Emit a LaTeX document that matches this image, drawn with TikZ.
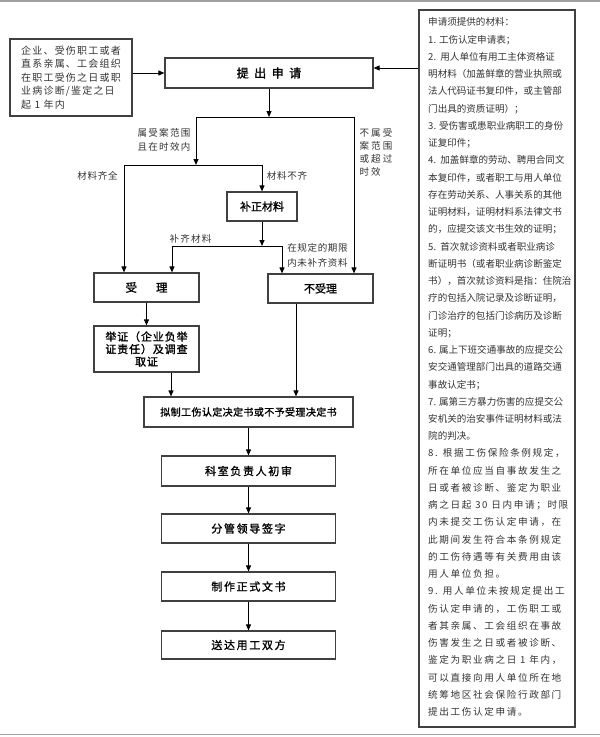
\documentclass[tikz,border=0pt]{standalone}
\usepackage{fontspec}
\usetikzlibrary{arrows.meta}
\newfontfamily\cjk{Noto Sans CJK SC}
\newfontfamily\cjkb[FakeBold=1.3]{Noto Sans CJK SC}
\definecolor{boxgray}{HTML}{404040}
\definecolor{txtgray}{HTML}{333333}
\definecolor{rulegray}{HTML}{A0A0A0}
\begin{document}
\begin{tikzpicture}[x=1pt,y=-1pt,
  box/.style={draw=boxgray,line width=1.2pt,inner sep=0pt,font=\cjkb\fontsize{11}{12.5}\selectfont},
  conn/.style={line width=0.9pt,-{Triangle[length=6pt,width=5pt]}},
  seg/.style={line width=0.9pt},
  lbl/.style={inner sep=0pt,text=txtgray,align=left},
]
\path[use as bounding box,fill=white] (0,0) rectangle (600,737);
\draw[rulegray,line width=1.5pt] (0,0.75) -- (600,0.75);
\draw[rulegray,line width=1.5pt] (0,734.5) -- (600,734.5);

% source box
\node[box,minimum width=122pt,minimum height=77pt,align=left,text=txtgray,
  font=\cjk\fontsize{10}{13.5}\selectfont\addfontfeatures{LetterSpace=12}] (src) at (71,77.5)
  {企业、受伤职工或者\\直系亲属、工会组织\\在职工受伤之日或职\\业病诊断/鉴定之日\\起 1 年内};

\node[box,minimum width=208pt,minimum height=30pt,font=\cjkb\fontsize{12}{14}\selectfont] (apply) at (269,73)
  {提\hspace{5.5pt}出\hspace{5.5pt}申\hspace{5.5pt}请};

% materials box
\node[draw=boxgray,line width=1.2pt,minimum width=156pt,minimum height=717pt,inner sep=0pt] (mat) at (497,368.5) {};
\node[lbl,anchor=north west,font=\cjk\fontsize{9.55}{17.25}\selectfont] (matA) at (428,17.5)
{申请须提供的材料：\\
1. 工伤认定申请表；\\
2.\ \ 用人单位有用工主体资格证\\
明材料（加盖鲜章的营业执照或\\
法人代码证书复印件，或主管部\\
门出具的资质证明）；\\
3. 受伤害或患职业病职工的身份\\
证复印件；\\
4.\ \ 加盖鲜章的劳动、聘用合同文\\
本复印件，或者职工与用人单位\\
存在劳动关系、人事关系的其他\\
证明材料，证明材料系法律文书\\
的，应提交该文书生效的证明；\\
5.\ \ 首次就诊资料或者职业病诊\\
断证明书（或者职业病诊断鉴定\\
书），首次就诊资料是指：住院治\\
疗的包括入院记录及诊断证明，\\
门诊治疗的包括门诊病历及诊断\\
证明；\\
6. 属上下班交通事故的应提交公\\
安交通管理部门出具的道路交通\\
事故认定书；\\
7. 属第三方暴力伤害的应提交公\\
安机关的治安事件证明材料或法\\
院的判决。};
\node[lbl,anchor=north west,font=\cjk\fontsize{9.6}{17.25}\selectfont\addfontfeatures{LetterSpace=17}] (matB) at (428,448.6)
{8. 根据工伤保险条例规定，\\
所在单位应当自事故发生之\\
日或者被诊断、鉴定为职业\\
病之日起 30 日内申请；时限\\
内未提交工伤认定申请，在\\
此期间发生符合本条例规定\\
的工伤待遇等有关费用由该\\
用人单位负担。\\
9. 用人单位未按规定提出工\\
伤认定申请的，工伤职工或\\
者其亲属、工会组织在事故\\
伤害发生之日或者被诊断、\\
鉴定为职业病之日 1 年内，\\
可以直接向用人单位所在地\\
统筹地区社会保险行政部门\\
提出工伤认定申请。};

% flow boxes
\node[box,minimum width=105pt,minimum height=29pt,font=\cjkb\fontsize{11.5}{13}\selectfont] (acc) at (146.5,287.5) {受\hspace{19pt}理};
\node[box,minimum width=70pt,minimum height=29pt] (fix) at (262,206.5) {补正材料};
\node[box,minimum width=105pt,minimum height=29pt] (rej) at (320.5,288.5) {不受理};
\node[box,minimum width=105pt,minimum height=46pt,align=center,
  font=\cjkb\fontsize{11}{12.5}\selectfont\addfontfeatures{LetterSpace=8}] (evid) at (146.5,349)
  {举证（企业负举\\证责任）及调查\\取证};
\node[box,minimum width=209pt,minimum height=30pt,
  font=\cjkb\fontsize{10}{12}\selectfont\addfontfeatures{LetterSpace=4}] (draft) at (248.5,412)
  {拟制工伤认定决定书或不予受理决定书};
\tikzset{stepbox/.style={box,minimum width=174pt,font=\cjkb\fontsize{11}{12.5}\selectfont\addfontfeatures{LetterSpace=15}}}
\node[stepbox,minimum height=30pt] (s1) at (248.5,471) {科室负责人初审};
\node[stepbox,minimum height=29pt] (s2) at (248.5,528.5) {分管领导签字};
\node[stepbox,minimum height=29pt] (s3) at (248.5,586.5) {制作正式文书};
\node[stepbox,minimum height=28pt] (s4) at (248.5,645) {送达用工双方};

% labels
\node[lbl,font=\cjk\fontsize{9.5}{14}\selectfont\addfontfeatures{LetterSpace=14}] (l1) at (164,140) {属受案范围\\且在时效内};
\node[lbl,font=\cjk\fontsize{9.5}{13}\selectfont\addfontfeatures{LetterSpace=23}] (l2) at (376,152.5) {不属受\\案范围\\或超过\\时效};
\node[lbl,font=\cjk\fontsize{9.5}{13}\selectfont\addfontfeatures{LetterSpace=8}] (l3) at (97.5,176) {材料齐全};
\node[lbl,font=\cjk\fontsize{9.5}{13}\selectfont\addfontfeatures{LetterSpace=8}] (l4) at (287,176) {材料不齐};
\node[lbl,font=\cjk\fontsize{9.5}{13}\selectfont\addfontfeatures{LetterSpace=13}] (l5) at (190.5,239) {补齐材料};
\node[lbl,font=\cjk\fontsize{9.5}{15}\selectfont\addfontfeatures{LetterSpace=7}] (l6) at (317.5,255.5) {在规定的期限\\内未补齐资料};

% connectors
\draw[conn] (src.east |- apply.west) -- (apply.west);
\coordinate (ain) at ([yshift=5pt]apply.east);
\draw[conn] (mat.west |- ain) -- (ain);

\coordinate (j1) at (269,117);
\coordinate (j1l) at (196,117);
\coordinate (j1r) at (354,117);
\draw[conn] (apply.south) -- (apply.south |- j1);
\draw[seg] (j1l) -- (j1r);
\coordinate (j2) at (196,165);
\coordinate (j2l) at (124,165);
\coordinate (j2r) at (262,165);
\draw[conn] (j1l) -- (j2);
\draw[seg] (j2l) -- (j2r);
\draw[conn] (j2l) -- (j2l |- acc.north);
\draw[conn] (j2r) -- (fix.north);
\draw[conn] (j1r) -- (j1r |- rej.north);
\coordinate (j3) at (262,246);
\coordinate (j3l) at (172,246);
\coordinate (j3r) at (282,246);
\draw[conn] (fix.south) -- (j3);
\draw[seg] (j3l) -- (j3r);
\draw[conn] (j3l) -- (j3l |- acc.north);
\draw[conn] (j3r) -- (j3r |- rej.north);
\draw[conn] (acc.south) -- (evid.north);
\coordinate (ev) at ([xshift=24.5pt]evid.south);
\draw[conn] (ev) -- (ev |- draft.north);
\coordinate (rj) at ([xshift=-24.5pt]rej.south);
\draw[conn] (rj) -- (rj |- draft.north);
\draw[conn] (draft.south) -- (s1.north);
\draw[conn] (s1.south) -- (s2.north);
\draw[conn] (s2.south) -- (s3.north);
\draw[conn] (s3.south) -- (s4.north);
\end{tikzpicture}
\end{document}
